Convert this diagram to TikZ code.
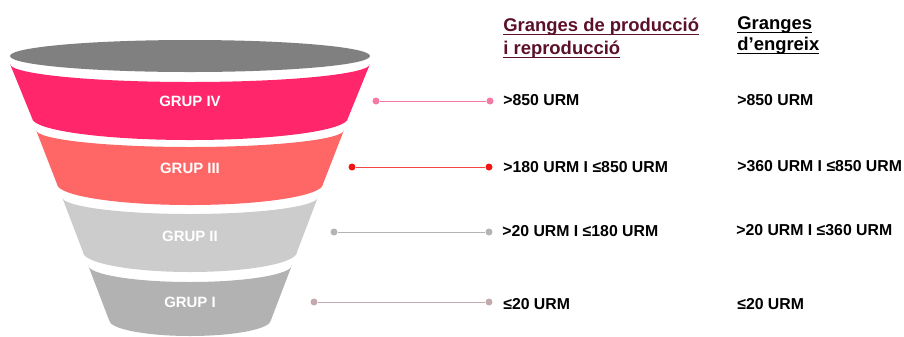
\documentclass[tikz,border=0pt]{standalone}
\usepackage{fontspec}
\setmainfont{Liberation Sans}
\newcommand{\subrat}[1]{\setbox0\hbox{#1}\rlap{\rule[-2.4pt]{\wd0}{0.8pt}}\box0}
\definecolor{grupiv}{RGB}{255,38,108}
\definecolor{grupiii}{RGB}{255,102,102}
\definecolor{grupii}{RGB}{204,204,204}
\definecolor{grupi}{RGB}{178,178,178}
\definecolor{boca}{RGB}{128,128,128}
\definecolor{granat}{RGB}{92,16,42}
\definecolor{puntiv}{RGB}{245,120,165}
\definecolor{puntiii}{RGB}{240,20,20}
\definecolor{puntii}{RGB}{180,180,180}
\definecolor{punti}{RGB}{195,170,175}

\begin{document}
\begin{tikzpicture}[x=0.02cm,y=-0.02cm,
  grup/.style={font=\fontsize{8.5}{10}\selectfont\bfseries,text=white},
  urm/.style={font=\fontsize{9}{11}\selectfont\bfseries,anchor=base west,inner sep=0},
  capcal/.style={font=\fontsize{10.5}{12.5}\selectfont\bfseries,anchor=base west,inner sep=0},
  punt/.style={circle,inner sep=0,minimum size=0.14cm}]
\useasboundingbox (0,0) rectangle (904,336);
%\draw[step=50,gray,very thin] (0,0) grid (904,336);
% boca de l'embut
\fill[boca] (190,56) ellipse [x radius=180,y radius=16];
% franges
\fill[grupiv] (10,64) -- (32,118) arc[start angle=180,end angle=0,x radius=158,y radius=22]
  -- (370,64) arc[start angle=0,end angle=180,x radius=180,y radius=18] -- cycle;
\fill[grupiii] (36,130) -- (57,184) arc[start angle=180,end angle=0,x radius=133,y radius=21]
  -- (344,130) arc[start angle=0,end angle=180,x radius=154,y radius=17] -- cycle;
\fill[grupii] (62,197) -- (83,252) arc[start angle=180,end angle=0,x radius=107,y radius=20]
  -- (318,197) arc[start angle=0,end angle=180,x radius=128,y radius=17] -- cycle;
\fill[grupi] (88,265) -- (109,320) arc[start angle=180,end angle=0,x radius=81,y radius=16]
  -- (292,265) arc[start angle=0,end angle=180,x radius=102,y radius=17] -- cycle;
\node[grup] (g4) at (190,101) {GRUP IV};
\node[grup] (g3) at (190,168) {GRUP III};
\node[grup] (g2) at (190,236) {GRUP II};
\node[grup] (g1) at (190,302) {GRUP I};
% punts i linies
\node[punt,fill=puntiv] (p4a) at (376,101) {};
\node[punt,fill=puntiv] (p4b) at (490,101) {};
\node[punt,fill=puntiii] (p3a) at (352,167) {};
\node[punt,fill=puntiii] (p3b) at (489,167) {};
\node[punt,fill=puntii] (p2a) at (334,232) {};
\node[punt,fill=puntii] (p2b) at (489,232) {};
\node[punt,fill=punti] (p1a) at (314,302) {};
\node[punt,fill=punti] (p1b) at (489,302) {};
\draw[puntiv,thin] (p4a) -- (p4b);
\draw[puntiii!80,thin] (p3a) -- (p3b);
\draw[puntii,thin] (p2a) -- (p2b);
\draw[punti,thin] (p1a) -- (p1b);
% capcaleres
\node[capcal,text=granat] (hp1) at (503,31) {\subrat{Granges de producció}};
\node[capcal,text=granat] (hp2) at (503,54) {\subrat{i reproducció}};
\node[capcal] (he1) at (737,29) {\subrat{Granges}};
\node[capcal] (he2) at (737,50) {\subrat{d’engreix}};
% valors
\node[urm] (r4a) at (503,105.5) {>850 URM};
\node[urm] (r3a) at (503,172) {>180 URM I ≤850 URM};
\node[urm] (r2a) at (502,236.5) {>20 URM I ≤180 URM};
\node[urm] (r1a) at (503,309.5) {≤20 URM};
\node[urm] (r4b) at (737,105.5) {>850 URM};
\node[urm] (r3b) at (737,171.5) {>360 URM I ≤850 URM};
\node[urm] (r2b) at (736,235.5) {>20 URM I ≤360 URM};
\node[urm] (r1b) at (737,309.5) {≤20 URM};
\end{tikzpicture}
\end{document}
